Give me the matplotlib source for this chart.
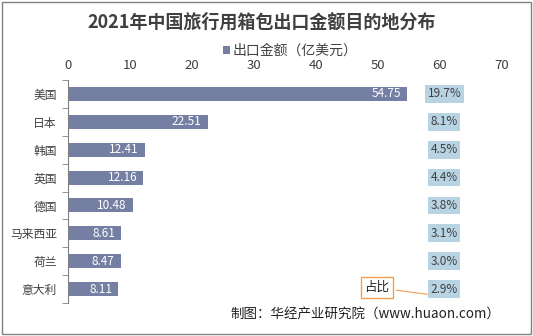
import matplotlib.pyplot as plt
from matplotlib.patches import Rectangle

plt.rcParams['font.family'] = ['Noto Sans CJK SC', 'DejaVu Sans']

countries = ['美国', '日本', '韩国', '英国', '德国', '马来西亚', '荷兰', '意大利']
amounts = [54.75, 22.51, 12.41, 12.16, 10.48, 8.61, 8.47, 8.11]
shares = ['19.7%', '8.1%', '4.5%', '4.4%', '3.8%', '3.1%', '3.0%', '2.9%']
xticks = [0, 10, 20, 30, 40, 50, 60, 70]

fig = plt.figure(figsize=(5.33, 3.36), dpi=100)
ax = fig.add_axes([0.1276, 0.098, 0.8143, 0.664])

y = list(range(len(countries)))
bars = ax.barh(y, amounts, height=0.5, color='#757fa3', label='出口金额（亿美元）')
for i, v in enumerate(amounts):
    ax.text(v - 1.0, i, f'{v:.2f}', color='white', fontsize=8.5, ha='right', va='center')
    ax.text(60.7, i, shares[i], color='#404040', fontsize=8.5, ha='center', va='center',
            bbox=dict(boxstyle='square,pad=0.2', fc='#b8d4e3', ec='none'))

ax.set_xlim(0, 70)
ax.set_ylim(len(countries) - 0.5, -0.5)
ax.xaxis.tick_top()
ax.set_xticks(xticks)
ax.tick_params(axis='x', length=0, labelsize=9.5, colors='#404040', pad=6)
ax.set_yticks(y)
ax.set_yticklabels(countries, fontsize=8.5, color='#404040')
ax.set_yticks([i - 0.5 for i in range(len(countries) + 1)], minor=True)
ax.tick_params(axis='y', which='major', length=0, pad=8)
ax.tick_params(axis='y', which='minor', length=4, color='#808080')
for s in ['top', 'right', 'bottom']:
    ax.spines[s].set_visible(False)
ax.spines['left'].set_color('#808080')

fig.text(0.49, 0.935, '2021年中国旅行用箱包出口金额目的地分布', ha='center', va='center',
         fontsize=13, fontweight='bold', color='#404040')
fig.legend(handles=[bars], loc='center', bbox_to_anchor=(0.545, 0.848), frameon=False,
           fontsize=10, handlelength=0.5, handleheight=0.5, handletextpad=0.2,
           labelcolor='#404040')

ax.annotate('占比', xy=(58.5, 7.2), xytext=(49.8, 6.95), fontsize=9, color='#202020',
            ha='center', va='center',
            bbox=dict(boxstyle='square,pad=0.3', fc='none', ec='#f0a050'),
            arrowprops=dict(arrowstyle='-', color='#f0a050', lw=0.8))

fig.text(0.938, 0.065, '制图：华经产业研究院（www.huaon.com）', ha='right', va='center',
         fontsize=9.7, color='#202020')

fig.patches.append(Rectangle((0.004, 0.006), 0.992, 0.988, transform=fig.transFigure,
                             fill=False, ec='#808080', lw=1))

fig.savefig('out.png', dpi=100)
